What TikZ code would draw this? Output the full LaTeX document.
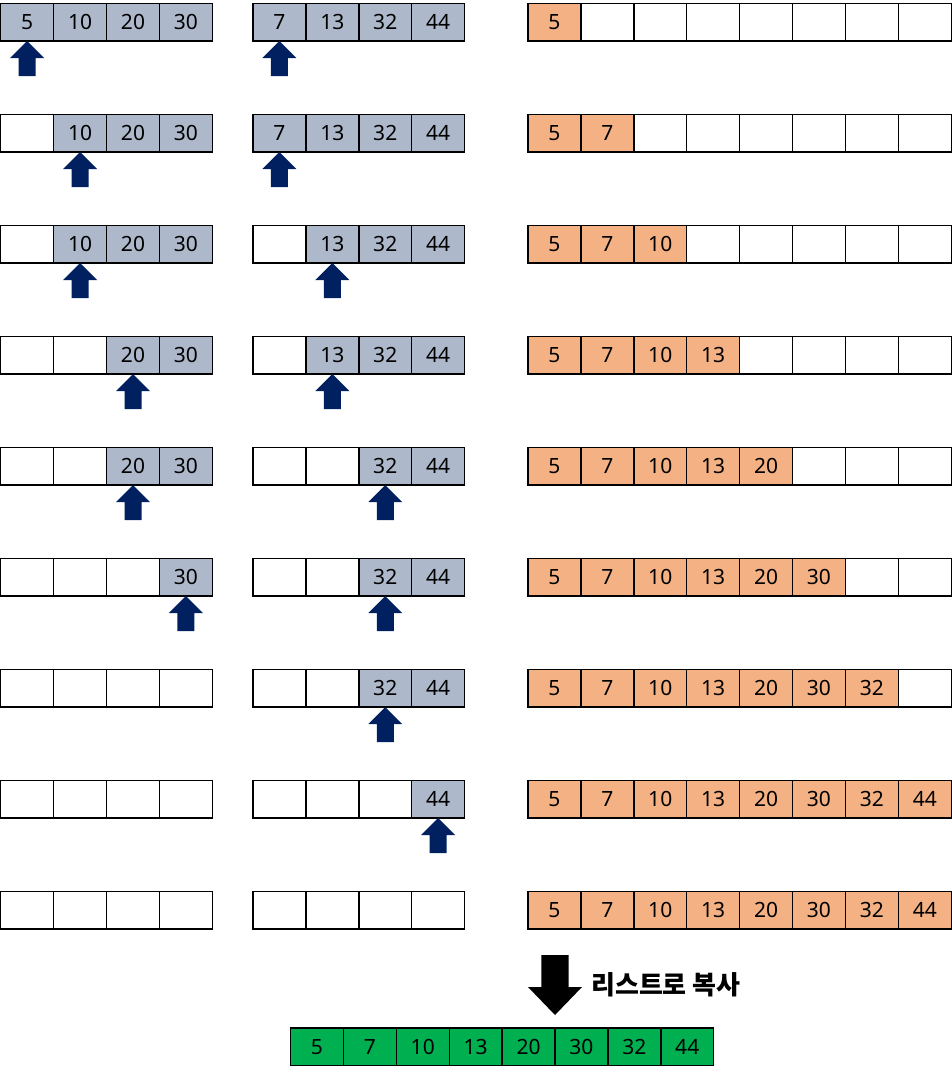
\documentclass[tikz,border=0pt]{standalone}
\usepackage{fontspec}
\setmainfont{Noto Sans}
\newfontfamily\kr{Noto Sans CJK KR}
\definecolor{cgray}{HTML}{ADB9CA}
\definecolor{corange}{HTML}{F4B183}
\definecolor{cgreen}{HTML}{00B050}
\definecolor{cnavy}{HTML}{002060}
\begin{document}
\begin{tikzpicture}[x=1pt,y=-1pt,
  cell/.style={draw=black, line width=1.4pt, minimum width=52.9pt, minimum height=37.5pt,
    inner sep=0pt, outer sep=0pt, anchor=north west, font=\fontsize{21}{21}\selectfont},
  ptr/.style={fill=cnavy},
  bigarrow/.style={fill=black}]
\useasboundingbox (0,0) rectangle (952,1076);
\foreach \r/\lv/\mv/\la/\ma in {
  0/{5,10,20,30}/{7,13,32,44}/0/0,
  1/{0,10,20,30}/{7,13,32,44}/1/0,
  2/{0,10,20,30}/{0,13,32,44}/1/1,
  3/{0,0,20,30}/{0,13,32,44}/2/1,
  4/{0,0,20,30}/{0,0,32,44}/2/2,
  5/{0,0,0,30}/{0,0,32,44}/3/2,
  6/{0,0,0,0}/{0,0,32,44}/-1/2,
  7/{0,0,0,0}/{0,0,0,44}/-1/3,
  8/{0,0,0,0}/{0,0,0,0}/-1/-1}{
  \pgfmathsetmacro\yy{3.5+111*\r}
  \foreach \v [count=\c from 0] in \lv {
    \ifnum\v=0 \def\cf{white}\def\ct{}\else\def\cf{cgray}\edef\ct{\v}\fi
    \node[cell, fill=\cf] (L\r-\c) at ({0.75+52.9*\c},\yy) {\ct};
  }
  \foreach \v [count=\c from 0] in \mv {
    \ifnum\v=0 \def\cf{white}\def\ct{}\else\def\cf{cgray}\edef\ct{\v}\fi
    \node[cell, fill=\cf] (M\r-\c) at ({253+52.9*\c},\yy) {\ct};
  }
  \foreach \v [count=\c from 0] in {5,7,10,13,20,30,32,44} {
    \ifnum\c>\r \def\cf{white}\def\ct{}\else\def\cf{corange}\edef\ct{\v}\fi
    \node[cell, fill=\cf] (R\r-\c) at ({528+52.9*\c},\yy) {\ct};
  }
  \ifnum\la>-1
    \fill[ptr, shift={(L\r-\la.south)}] (0,0) -- (17,17) -- (8.5,17) -- (8.5,35)
      -- (-8.5,35) -- (-8.5,17) -- (-17,17) -- cycle;
  \fi
  \ifnum\ma>-1
    \fill[ptr, shift={(M\r-\ma.south)}] (0,0) -- (17,17) -- (8.5,17) -- (8.5,35)
      -- (-8.5,35) -- (-8.5,17) -- (-17,17) -- cycle;
  \fi
}
\foreach \v [count=\c from 0] in {5,7,10,13,20,30,32,44} {
  \node[cell, fill=cgreen] (G\c) at ({290.5+52.9*\c},1028) {\v};
}
\fill[bigarrow, shift={(G5.north west)}] (0,-13) -- (27,-41) -- (13.7,-41) -- (13.7,-73)
  -- (-13.7,-73) -- (-13.7,-41) -- (-27,-41) -- cycle;
\node[anchor=west, inner sep=0pt, font=\kr\bfseries\fontsize{26}{26}\selectfont] (lbl) at (591,985) {리스트로 복사};
\end{tikzpicture}
\end{document}
